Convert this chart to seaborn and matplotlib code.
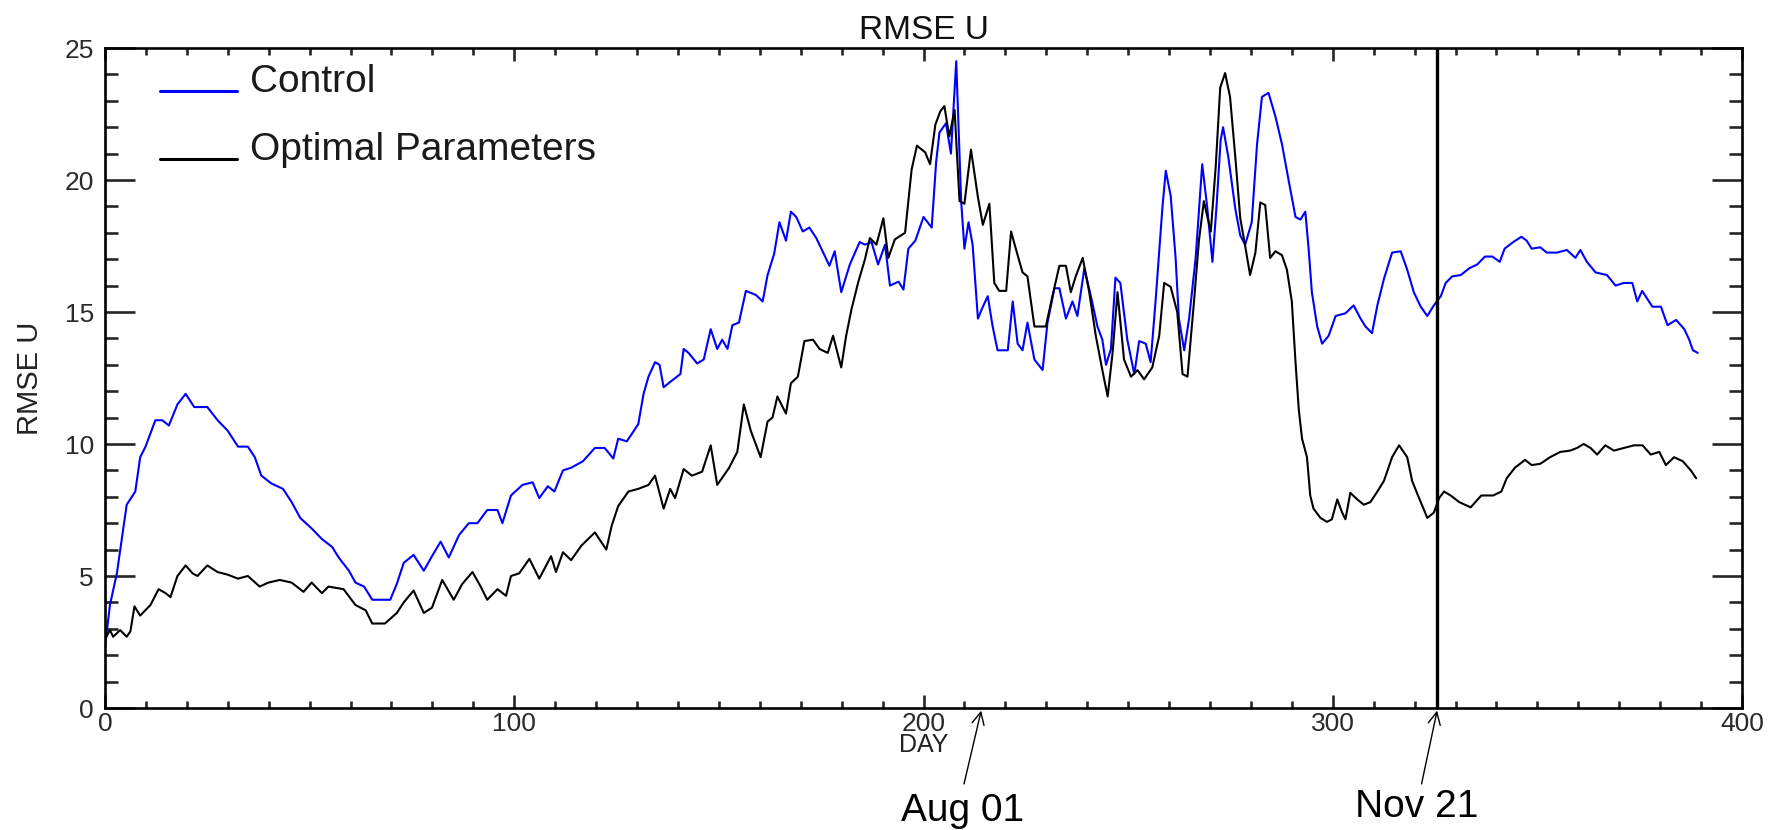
import matplotlib
matplotlib.use("Agg")
import matplotlib.pyplot as plt
import seaborn as sns
import pandas as pd
from matplotlib.lines import Line2D
from matplotlib.legend_handler import HandlerLine2D
from matplotlib.ticker import MultipleLocator

# ---------------- data ----------------
control_day = [0, 1.2, 2.9, 4.1, 5.3, 7.4, 8.6, 9.9, 12.3, 14, 15.6, 17.7, 19.7, 21.8, 25, 27.5, 30,
               32.5, 34.9, 36.6, 38.2, 40.7, 43.5, 45.6, 47.7, 50.5, 53, 55.5, 57.1, 59.6, 61.2, 63.3,
               65.3, 68, 69.7, 71.3, 73, 75.4, 77.9, 79.9, 82, 84, 86.5, 88.9, 91, 93.4, 95.9, 97.1,
               99.2, 102, 104.5, 106.1, 108.2, 109.8, 111.9, 113.9, 116.8, 119.7, 122.1, 124.2, 125.4,
               127.5, 130.3, 131.6, 132.8, 134.4, 135.5, 136.5, 138.5, 140.6, 141.4, 142.6, 144.7,
               146.3, 148, 149.6, 150.8, 152.1, 153.3, 154.9, 156.6, 159, 160.7, 161.9, 163.5, 164.8,
               166.4, 167.6, 168.9, 170.5, 172.1, 173.8, 175.8, 177, 178.3, 179.9, 182, 184.4, 185.7,
               187.3, 188.9, 190.6, 191.8, 193.9, 195.1, 196.3, 198, 200, 202, 203.1, 203.9, 205.5,
               206.7, 208, 209.2, 210, 211, 212, 213.3, 214.5, 215.7, 216.9, 218.1, 220.6, 221.8, 223,
               224.2, 225.4, 227.1, 229.1, 230.3, 232, 233.2, 234.8, 236.4, 237.6, 239.3, 240.9, 242.5,
               243.7, 244.6, 245.8, 246.9, 248.1, 249.8, 251.5, 252.7, 254.3, 255.5, 256.7, 258.4,
               259.2, 260.4, 261.6, 262.4, 263.7, 264.9, 266.5, 268.1, 269.3, 270.6, 271.6, 272.6,
               273.2, 274.5, 276.2, 277.4, 278.6, 280.2, 281.5, 282.7, 284.3, 286, 287.6, 289.2, 290.9,
               292.1, 293.3, 294.1, 294.9, 296.2, 297.4, 299, 300.7, 303.1, 305.1, 306.8, 308, 309.6,
               310.9, 312.5, 314.5, 316.6, 318.2, 319.8, 321.5, 323.1, 324.7, 326.4, 327.6, 329.2,
               331.3, 333.3, 335.3, 337.2, 339, 340.8, 342, 344.1, 346.1, 347.4, 348.6, 350.7, 352.3,
               354.8, 357.2, 359.3, 360.5, 362.1, 364.2, 367, 369.1, 371.1, 373.2, 374.4, 375.6, 378.1,
               380.2, 381.8, 383.9, 385.9, 387.1, 388, 389.2]
control_rmse = [2.3, 3.9, 5.1, 6.4, 7.7, 8.2, 9.5, 9.9, 10.9, 10.9, 10.7, 11.5, 11.9, 11.4, 11.4, 10.9,
                10.5, 9.9, 9.9, 9.5, 8.8, 8.5, 8.3, 7.8, 7.2, 6.8, 6.4, 6.1, 5.7, 5.2, 4.75, 4.6, 4.1,
                4.1, 4.1, 4.7, 5.5, 5.8, 5.2, 5.75, 6.3, 5.7, 6.55, 7.0, 7.0, 7.5, 7.5, 7.0, 8.05, 8.45,
                8.55, 7.95, 8.4, 8.2, 9.0, 9.1, 9.35, 9.85, 9.85, 9.45, 10.2, 10.1, 10.75, 11.9, 12.55,
                13.1, 13.0, 12.15, 12.4, 12.65, 13.6, 13.45, 13.05, 13.2, 14.35, 13.6, 13.95, 13.6,
                14.5, 14.6, 15.8, 15.65, 15.4, 16.4, 17.2, 18.4, 17.7, 18.8, 18.6, 18.05, 18.2, 17.8,
                17.15, 16.75, 17.3, 15.75, 16.8, 17.65, 17.55, 17.65, 16.8, 17.55, 16.0, 16.15, 15.85,
                17.4, 17.7, 18.6, 18.2, 20.7, 21.8, 22.15, 21.0, 24.5, 19.2, 17.4, 18.4, 17.55, 14.75,
                15.2, 15.6, 14.45, 13.55, 13.55, 15.4, 13.8, 13.55, 14.6, 13.2, 12.8, 14.6, 15.9, 15.9,
                14.75, 15.4, 14.85, 16.65, 15.6, 14.45, 13.95, 13.0, 13.6, 16.3, 16.1, 13.95, 12.65,
                13.9, 13.8, 13.1, 15.4, 19.0, 20.35, 19.4, 17.05, 14.75, 13.55, 14.75, 17.05, 20.6,
                19.0, 16.9, 19.0, 21.5, 22.0, 20.85, 18.9, 17.9, 17.55, 18.4, 21.35, 23.15, 23.3, 22.4,
                21.35, 20.0, 18.6, 18.5, 18.8, 17.4, 15.75, 14.45, 13.8, 14.1, 14.85, 14.95, 15.25,
                14.75, 14.45, 14.2, 15.25, 16.25, 17.25, 17.3, 16.6, 15.75, 15.2, 14.85, 15.25, 15.6,
                16.1, 16.35, 16.4, 16.65, 16.8, 17.1, 17.1, 16.9, 17.4, 17.65, 17.85, 17.7, 17.4, 17.45,
                17.25, 17.25, 17.35, 17.05, 17.35, 16.9, 16.5, 16.4, 16.0, 16.1, 16.1, 15.4, 15.8, 15.2,
                15.2, 14.5, 14.7, 14.35, 13.95, 13.55, 13.45]

optimal_day = [0, 1.2, 2, 3.7, 5.3, 6.2, 7.2, 8.6, 11.1, 13.1, 14.8, 16, 17.7, 19.7, 21.4, 22.6, 25,
               27.5, 30, 32.5, 34.9, 37.8, 39.9, 42.7, 45.6, 48.5, 50.5, 53, 54.6, 58.3, 61.2, 63.7,
               65.3, 68.4, 71.3, 73, 75.4, 77.9, 79.9, 82.4, 85.2, 87.3, 89.8, 91.8, 93.4, 95.9, 98,
               99.2, 101.2, 103.7, 106.1, 109, 110.2, 111.9, 113.9, 116.4, 119.7, 122.5, 123.8, 125.4,
               127.9, 130.3, 132.8, 134.4, 136.5, 138.1, 139.3, 141.4, 143.4, 145.9, 148, 149.6, 152.5,
               154.5, 156.1, 157.8, 160.2, 161.9, 163.1, 164.3, 166.4, 167.6, 169.3, 170.9, 173, 174.6,
               176.6, 177.9, 179.9, 181.1, 182.4, 184, 185.7, 186.9, 188.5, 190.2, 191.4, 193, 195.5,
               197.1, 198.4, 200.4, 201.6, 202.9, 204.1, 205.1, 206.3, 207.6, 208.8, 210, 211.6, 213.3,
               214.5, 216.1, 217.3, 218.5, 220.2, 221.4, 223, 224.2, 225.4, 227.1, 229.9, 231.5, 233.2,
               234.8, 236, 237.2, 238.9, 240.5, 242.1, 243.7, 245, 246.2, 247.4, 249, 250.7, 252.3,
               253.9, 255.9, 257.6, 258.8, 260.4, 262, 263.3, 264.5, 266.1, 267.3, 268.5, 270.2, 271.4,
               272.5, 273.7, 274.9, 276.2, 277.4, 278.6, 279.8, 281.1, 282.3, 283.5, 284.7, 286, 287.6,
               288.8, 290, 290.9, 291.7, 292.5, 293.7, 294.5, 295.3, 297, 298.6, 299.8, 301.1, 302.3,
               303.1, 304.3, 306, 307.6, 309.2, 310.9, 312.5, 314.5, 316.2, 318.2, 319.4, 321.1, 323.1,
               324.7, 326, 327.2, 328.8, 330.9, 333.7, 336.3, 339.2, 341.2, 342.5, 344.5, 347, 348.6,
               350.7, 353.1, 355.6, 358, 359.7, 361.3, 363, 364.6, 366.6, 368.7, 371.1, 373.6, 375.7,
               377.7, 379.8, 381.4, 383.4, 385.5, 387.5, 388.8]
optimal_rmse = [2.6, 2.95, 2.7, 2.95, 2.7, 2.9, 3.85, 3.5, 3.9, 4.5, 4.35, 4.2, 5.0, 5.4, 5.1, 5.0,
                5.4, 5.15, 5.05, 4.9, 5.0, 4.6, 4.75, 4.85, 4.75, 4.4, 4.75, 4.35, 4.6, 4.5, 3.9, 3.7,
                3.2, 3.2, 3.6, 4.0, 4.45, 3.6, 3.8, 4.85, 4.1, 4.7, 5.15, 4.6, 4.1, 4.5, 4.25, 5.0, 5.1,
                5.65, 4.9, 5.75, 5.15, 5.9, 5.6, 6.15, 6.65, 6.0, 6.9, 7.65, 8.2, 8.3, 8.45, 8.8, 7.55,
                8.3, 7.95, 9.05, 8.8, 8.95, 9.95, 8.45, 9.1, 9.7, 11.5, 10.5, 9.5, 10.85, 11.0, 11.8,
                11.15, 12.3, 12.55, 13.9, 13.95, 13.6, 13.45, 14.1, 12.9, 14.1, 15.1, 16.1, 17.0, 17.8,
                17.55, 18.55, 17.05, 17.75, 18.0, 20.4, 21.3, 21.05, 20.6, 22.1, 22.6, 22.8, 21.65,
                22.65, 19.2, 19.1, 21.15, 19.35, 18.3, 19.1, 16.1, 15.8, 15.8, 18.05, 17.15, 16.5,
                16.35, 14.45, 14.45, 15.6, 16.75, 16.75, 15.75, 16.35, 17.05, 15.75, 14.1, 12.8, 11.8,
                13.45, 15.75, 13.2, 12.55, 12.8, 12.45, 12.9, 14.1, 16.1, 15.95, 15.0, 12.65, 12.55,
                15.4, 17.7, 19.2, 18.05, 20.5, 23.5, 24.05, 23.15, 20.85, 18.55, 17.5, 16.4, 17.25,
                19.15, 19.05, 17.05, 17.3, 17.15, 16.6, 15.4, 13.1, 11.3, 10.2, 9.5, 8.05, 7.55, 7.2,
                7.05, 7.15, 7.9, 7.4, 7.15, 8.15, 7.9, 7.7, 7.8, 8.2, 8.6, 9.5, 9.95, 9.5, 8.6, 7.95,
                7.2, 7.4, 7.95, 8.2, 8.05, 7.8, 7.6, 8.05, 8.05, 8.2, 8.7, 9.1, 9.4, 9.2, 9.25, 9.5,
                9.7, 9.75, 9.85, 10.0, 9.85, 9.6, 9.95, 9.75, 9.85, 9.95, 9.95, 9.6, 9.7, 9.2, 9.5,
                9.35, 9.0, 8.7]

series_names = ["Control", "Optimal Parameters"]
series_colors = ["#0000ff", "#000000"]
event_days = [214.1, 325.5]          # Aug 01, Nov 21
event_labels = ["Aug 01", "Nov 21"]
x_ticks = [0, 100, 200, 300, 400]
y_ticks = [0, 5, 10, 15, 20, 25]

# ---------------- build table ----------------
df = pd.concat([
    pd.DataFrame({"day": control_day, "rmse": control_rmse, "run": series_names[0]}),
    pd.DataFrame({"day": optimal_day, "rmse": optimal_rmse, "run": series_names[1]}),
], ignore_index=True)

sns.set_style("white")
plt.rcParams["font.family"] = ["Liberation Sans", "DejaVu Sans"]

W, H = 1778, 830
fig = plt.figure(figsize=(W / 100, H / 100), dpi=100)
L, R, T, B = 105, 1742, 48, 708
ax = fig.add_axes([L / W, 1 - B / H, (R - L) / W, (B - T) / H])

sns.lineplot(data=df, x="day", y="rmse", hue="run", palette=dict(zip(series_names, series_colors)),
             estimator=None, sort=False, linewidth=1.5, ax=ax)

# Nov 21 vertical reference line
ax.axvline(event_days[1], color="black", lw=2.4, zorder=3)

ax.set_xlim(x_ticks[0], x_ticks[-1])
ax.set_ylim(y_ticks[0], y_ticks[-1])
ax.set_xticks(x_ticks)
ax.set_yticks(y_ticks)
ax.xaxis.set_minor_locator(MultipleLocator(10))
ax.yaxis.set_minor_locator(MultipleLocator(1))

for s in ax.spines.values():
    s.set_visible(True)
    s.set_linewidth(1.9)
    s.set_color("black")

tick_color = "#2a2a2a"
ax.tick_params(axis="x", which="major", direction="in", top=True, bottom=True, length=9.5, width=1.9,
               labelsize=19, pad=3, labelcolor=tick_color)
ax.tick_params(axis="x", which="minor", direction="in", top=True, bottom=True, length=5, width=1.9)
ax.tick_params(axis="y", which="major", direction="in", left=True, right=True, length=21.5, width=1.9,
               labelsize=19, pad=8, labelcolor=tick_color)
ax.tick_params(axis="y", which="minor", direction="in", left=True, right=True, length=9.7, width=1.9)

ax.set_title("RMSE U", fontsize=24, pad=6.5, color="#111111")
ax.set_xlabel("DAY", fontsize=18, color="#222222")
ax.xaxis.set_label_coords(0.5, -0.038)
ax.set_ylabel("RMSE U", fontsize=21, color="#222222")
ax.yaxis.set_label_coords(-0.037, 0.5)


class BaselineHandler(HandlerLine2D):
    def create_artists(self, legend, orig_handle, xdescent, ydescent, width, height, fontsize, trans):
        arts = super().create_artists(legend, orig_handle, xdescent, ydescent, width, height,
                                      fontsize, trans)
        for a in arts:
            a.set_ydata([0.5] * len(a.get_xdata()))
            a.set_linewidth(2.2)
        return arts


handles, labels = ax.get_legend_handles_labels()
ax.legend(handles, labels, loc="upper left", bbox_to_anchor=(55 / (R - L), 1 - 16 / (B - T)),
          frameon=False, fontsize=28, handlelength=1.98, handletextpad=0.33, labelspacing=0.81,
          borderpad=0, borderaxespad=0, handler_map={Line2D: BaselineHandler()},
          labelcolor="#1a1a1a")

# arrows + date labels below the axis
xtr = ax.get_xaxis_transform()
arrow_tail = [209.9, 321.7]
text_x = [209.6, 320.5]
text_y = [-0.171, -0.165]
for d, tail, tx, ty, lab in zip(event_days, arrow_tail, text_x, text_y, event_labels):
    ax.annotate("", xy=(d, -0.004), xycoords=xtr, xytext=(tail, -0.115), textcoords=xtr,
                arrowprops=dict(arrowstyle="->,head_length=0.4,head_width=0.2", lw=1.0,
                                color="black", shrinkA=0, shrinkB=0, mutation_scale=22),
                annotation_clip=False)
    ax.text(tx, ty, lab, transform=xtr, ha="center", va="baseline", fontsize=28, color="black")

fig.savefig("out.png", dpi=100, facecolor="white")
